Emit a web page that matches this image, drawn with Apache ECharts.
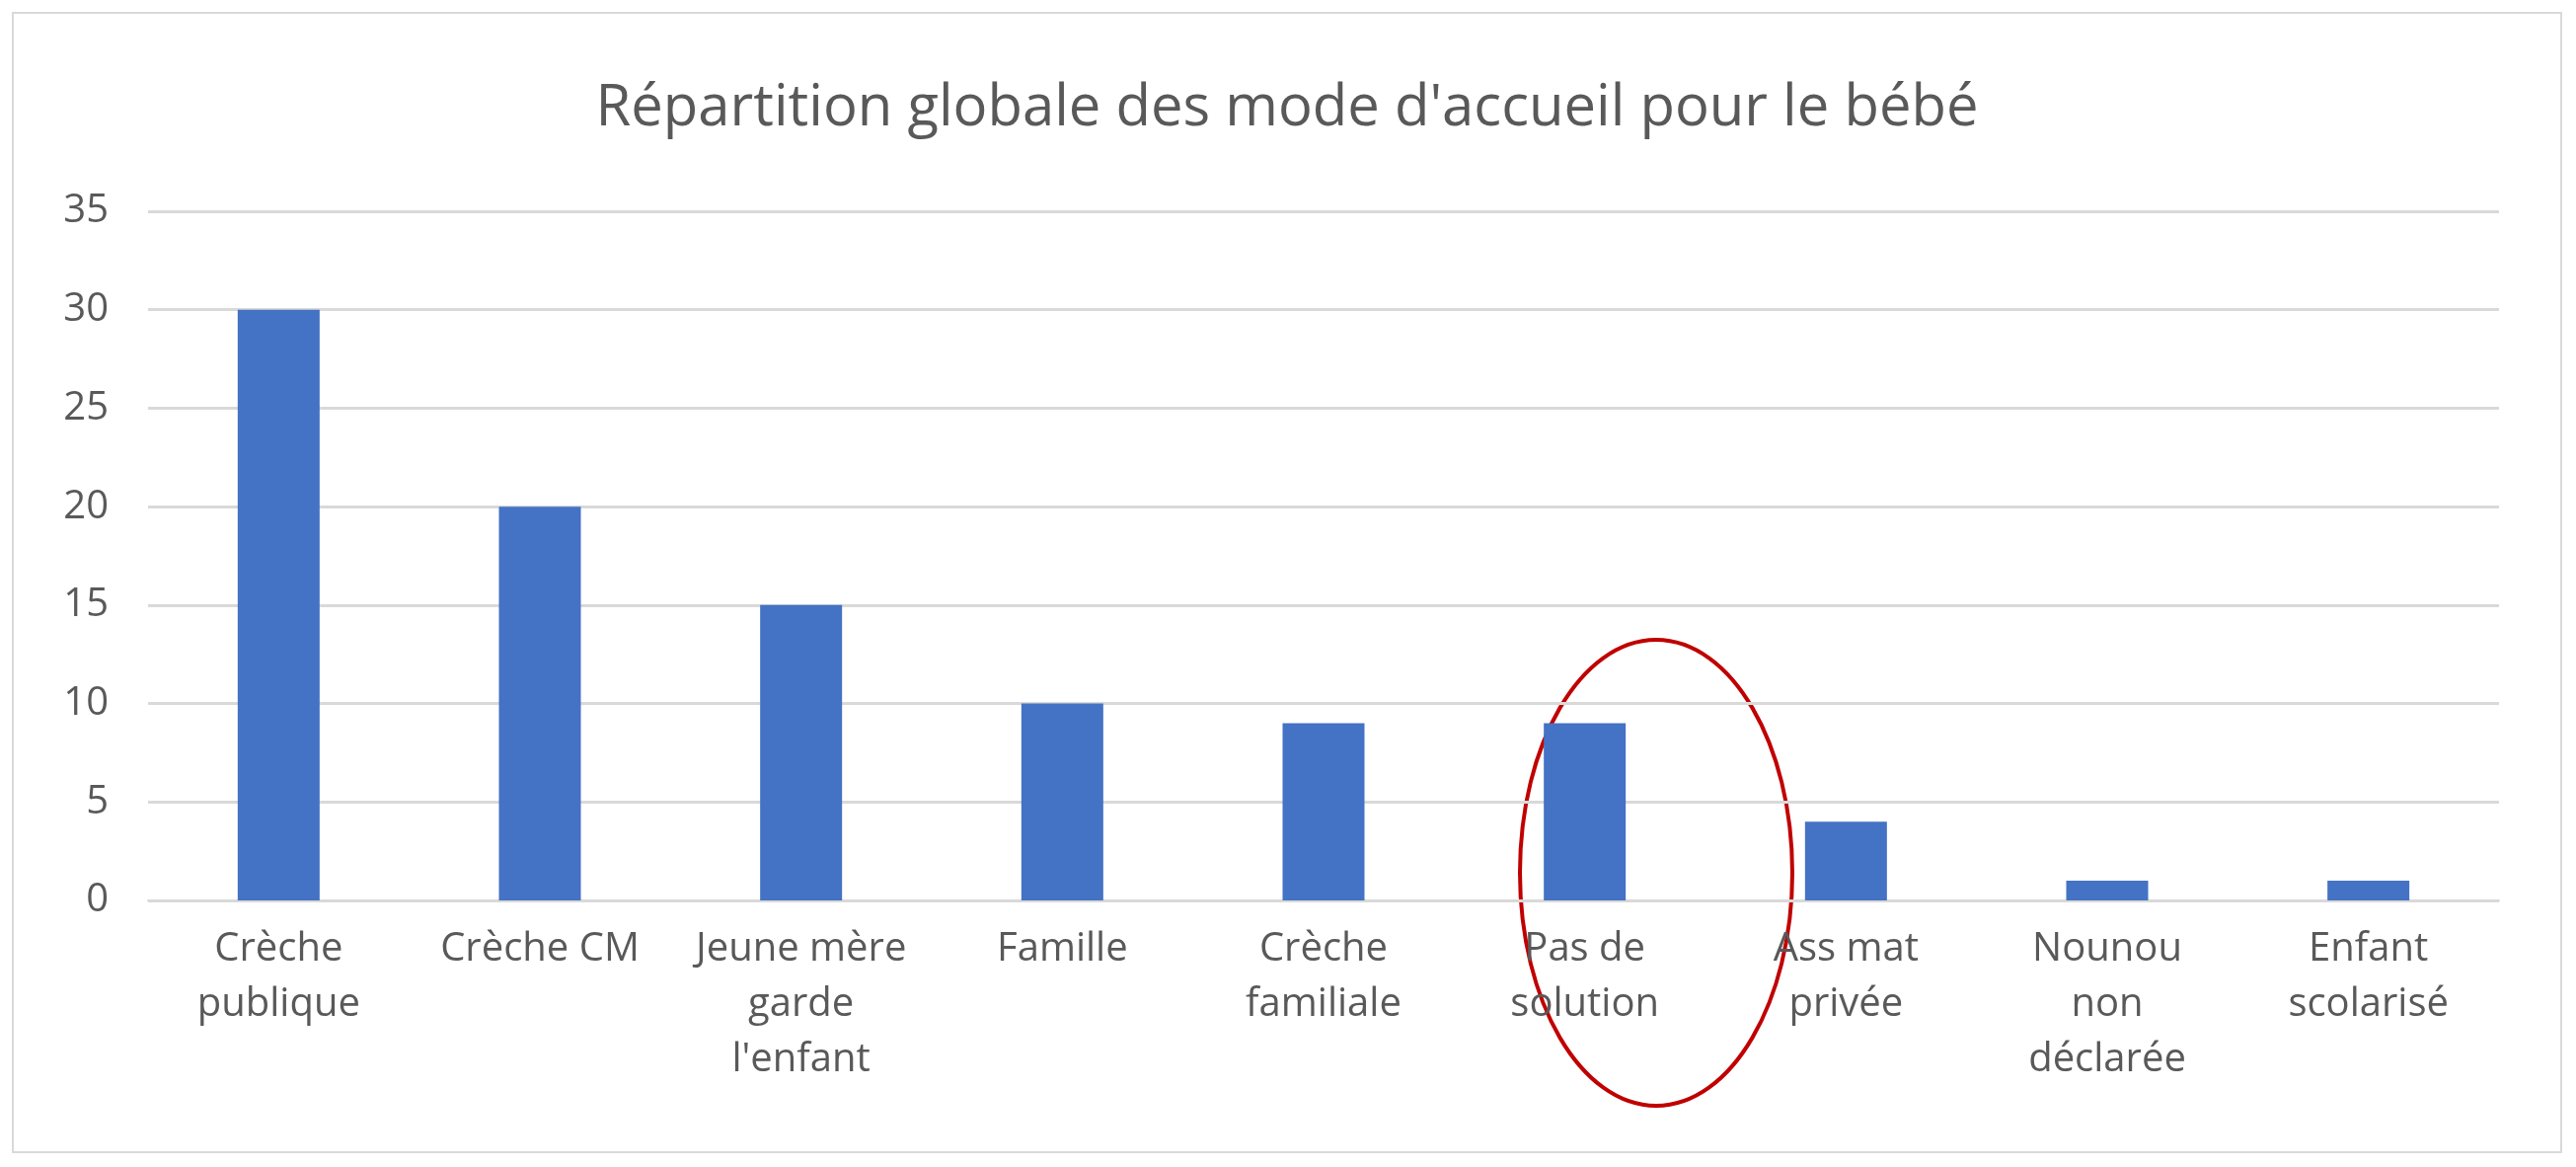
<!DOCTYPE html>
<html><head><meta charset="utf-8">
<script src="https://cdn.jsdelivr.net/npm/echarts@6/dist/echarts.min.js"></script>
<style>html,body{margin:0;background:#fff}#c{position:absolute;left:12px;top:12px;width:2584px;height:1156px;border:2px solid #d9d9d9;box-sizing:border-box}</style>
</head><body><div id="c"></div>
<script>
const categories = ['Crèche\npublique', 'Crèche CM', 'Jeune mère\ngarde\nl\'enfant', 'Famille', 'Crèche\nfamiliale', 'Pas de\nsolution', 'Ass mat\nprivée', 'Nounou\nnon\ndéclarée', 'Enfant\nscolarisé']
const values = [30, 20, 15, 10, 9, 9, 4, 1, 1]
const yTicks = { min: 0, max: 35, interval: 5 }

const chart = echarts.init(document.getElementById('c'))
chart.setOption({
  title: {
    text: "Répartition globale des mode d'accueil pour le bébé",
    left: 'center', top: 62,
    textStyle: { fontFamily: 'Open Sans', fontSize: 58, fontWeight: 'normal', color: '#595959' }
  },
  grid: { left: 136, right: 62, top: 200, bottom: 254 },
  xAxis: {
    type: 'category', data: categories,
    axisLine: { lineStyle: { color: '#d9d9d9', width: 2 } },
    axisTick: { show: false },
    axisLabel: { fontFamily: 'Open Sans', fontSize: 40, color: '#595959', lineHeight: 56, margin: 22, interval: 0 }
  },
  yAxis: {
    type: 'value', min: yTicks.min, max: yTicks.max, interval: yTicks.interval,
    axisLine: { show: false }, axisTick: { show: false },
    axisLabel: { fontFamily: 'Open Sans', fontSize: 40, color: '#595959', margin: 40 },
    splitLine: { lineStyle: { color: '#d9d9d9', width: 3 } }
  },
  series: [{ type: 'bar', data: values, barWidth: 83, itemStyle: { color: '#4472C4' } }],
  graphic: [{
    type: 'ellipse',
    shape: { cx: 1664, cy: 870, rx: 138, ry: 236 },
    style: { fill: 'none', stroke: '#C00000', lineWidth: 4 }
  }]
})
</script></body></html>
